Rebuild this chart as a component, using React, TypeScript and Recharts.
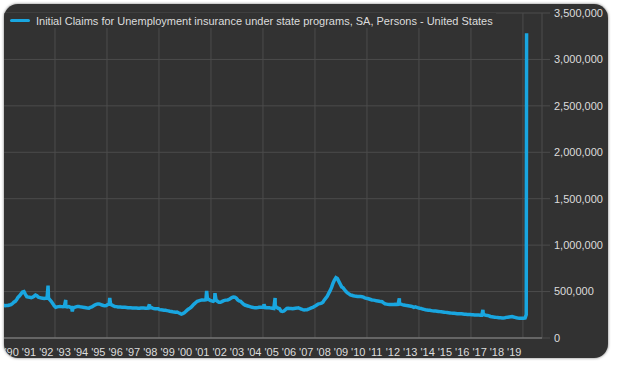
import { LineChart, Line, XAxis, YAxis, CartesianGrid } from 'recharts';

// monthly averages, thousands of persons
const y1990 = [352, 348, 350, 350, 355, 360, 370, 385, 395, 415, 440, 455];
const y1991 = [475, 495, 500, 470, 445, 440, 438, 435, 440, 450, 462, 455];
const y1992 = [440, 435, 430, 428, 425, 428, 430, 428, 410, 392, 370, 345];
const y1993 = [330, 335, 338, 340, 338, 336, 340, 338, 335, 338, 332, 330];
const y1994 = [325, 330, 335, 338, 338, 336, 335, 330, 328, 325, 322, 320];
const y1995 = [330, 335, 345, 355, 362, 365, 365, 362, 355, 350, 348, 350];
const y1996 = [360, 365, 362, 355, 345, 340, 338, 335, 335, 333, 330, 330];
const y1997 = [330, 328, 326, 325, 325, 324, 323, 322, 322, 320, 320, 322];
const y1998 = [322, 322, 320, 320, 322, 325, 330, 322, 318, 316, 315, 315];
const y1999 = [305, 303, 302, 300, 298, 295, 292, 288, 285, 282, 280, 278];
const y2000 = [280, 272, 265, 258, 262, 270, 285, 300, 312, 322, 335, 352];
const y2001 = [368, 382, 395, 400, 405, 408, 408, 410, 412, 425, 415, 405];
const y2002 = [400, 395, 405, 410, 395, 385, 385, 392, 400, 405, 408, 410];
const y2003 = [415, 425, 435, 442, 440, 430, 410, 400, 395, 380, 365, 355];
const y2004 = [350, 345, 340, 335, 330, 328, 327, 327, 328, 330, 332, 330];
const y2005 = [330, 328, 326, 325, 325, 322, 320, 318, 345, 330, 320, 315];
const y2006 = [290, 285, 290, 305, 318, 320, 318, 318, 315, 318, 320, 322];
const y2007 = [325, 318, 312, 305, 302, 303, 305, 310, 318, 325, 330, 340];
const y2008 = [348, 358, 368, 370, 375, 385, 410, 430, 450, 480, 510, 545];
const y2009 = [590, 625, 650, 640, 610, 580, 550, 540, 520, 500, 485, 475];
const y2010 = [465, 460, 455, 452, 450, 448, 446, 448, 445, 440, 432, 428];
const y2011 = [425, 420, 415, 410, 408, 405, 400, 398, 395, 392, 390, 378];
const y2012 = [368, 365, 362, 360, 362, 362, 360, 362, 360, 362, 370, 365];
const y2013 = [360, 356, 352, 350, 348, 345, 342, 338, 330, 335, 330, 325];
const y2014 = [320, 318, 312, 308, 304, 302, 300, 298, 295, 292, 290, 290];
const y2015 = [288, 286, 284, 282, 280, 278, 276, 274, 272, 270, 268, 266];
const y2016 = [266, 264, 262, 262, 262, 260, 258, 256, 255, 254, 252, 252];
const y2017 = [250, 250, 248, 248, 248, 247, 246, 245, 262, 248, 245, 243];
const y2018 = [238, 232, 228, 226, 224, 222, 220, 218, 217, 216, 216, 218];
const y2019 = [222, 224, 226, 228, 230, 226, 222, 218, 215, 214, 213, 212];
const y2020 = [212, 215];

const monthlyYears = [
    y1990, y1991, y1992, y1993, y1994, y1995, y1996, y1997, y1998, y1999,
    y2000, y2001, y2002, y2003, y2004, y2005, y2006, y2007, y2008, y2009,
    y2010, y2011, y2012, y2013, y2014, y2015, y2016, y2017, y2018, y2019, y2020,
];

// single-week spikes [date as year fraction, thousands]
const spikeDates = [1992.6, 1993.62, 1994.0, 1996.16, 1998.45, 2001.75, 2002.23, 2005.06, 2005.7, 2012.87, 2017.69];
const spikeValues = [565, 410, 285, 432, 364, 508, 483, 364, 430, 428, 302];

// last weeks of the series (March 2020)
const lastDates = [2020.19, 2020.21];
const lastValues = [252, 3283];

const yTicks = [0, 500000, 1000000, 1500000, 2000000, 2500000, 3000000, 3500000];
const labelYears = Array.from({ length: 30 }, (_, i) => 1990 + i);
const gridYears = Array.from({ length: 30 }, (_, i) => 1991 + i);

const chartData = [
    ...monthlyYears.flatMap((vals, yi) =>
        vals.map((v, m) => ({ t: 1990 + yi + (m + 0.5) / 12, claims: v * 1000 }))
    ),
    ...spikeDates.map((t, i) => ({ t, claims: spikeValues[i] * 1000 })),
    ...lastDates.map((t, i) => ({ t, claims: lastValues[i] * 1000 })),
].sort((a, b) => a.t - b.t);

const FONT = '"Liberation Sans", Arial, sans-serif';
const TEXT = '#dcdcdc';
const GRID = '#4c4c4c';
const BLUE = '#19a6e0';

export default function App() {
    return (
        <div style={{ position: 'absolute', left: 0, top: 0, width: 617, height: 365, background: '#fff', fontFamily: FONT }}>
            <div
                style={{
                    position: 'absolute', left: 4, top: 4, width: 604, height: 354,
                    background: '#323232', borderRadius: 14, overflow: 'hidden',
                    boxShadow: '0 0 3px rgba(0,0,0,0.55)',
                }}
            >
                <div style={{ position: 'absolute', left: -1, top: 0 }}>
                    <LineChart width={605} height={354} data={chartData} margin={{ top: 9, right: 0, left: 0, bottom: 0 }}>
                        <CartesianGrid xAxisId="grid" stroke={GRID} strokeWidth={1} />
                        <XAxis
                            xAxisId="grid"
                            type="number"
                            dataKey="t"
                            domain={[1990, 2021.1]}
                            ticks={gridYears}
                            allowDataOverflow
                            hide
                        />
                        <XAxis
                            type="number"
                            dataKey="t"
                            domain={[1990, 2021.1]}
                            ticks={labelYears.map((y) => y + 0.5)}
                            allowDataOverflow
                            interval={0}
                            height={20}
                            tickSize={0}
                            tickMargin={10}
                            axisLine={{ stroke: '#8c8c8c' }}
                            tick={{ fontSize: 11, fill: TEXT, fontFamily: FONT }}
                            tickFormatter={(t: number) => "'" + String(Math.floor(t)).slice(2)}
                        />
                        <YAxis
                            orientation="right"
                            width={66}
                            domain={[0, 3500000]}
                            ticks={yTicks}
                            interval={0}
                            axisLine={false}
                            tickSize={8}
                            tickMargin={4}
                            tickLine={{ stroke: GRID }}
                            tick={{ fontSize: 11, fill: TEXT, fontFamily: FONT }}
                            tickFormatter={(v: number) => v.toLocaleString('en-US')}
                        />
                        <Line
                            type="linear"
                            dataKey="claims"
                            stroke={BLUE}
                            strokeWidth={3.5}
                            dot={false}
                            isAnimationActive={false}
                        />
                    </LineChart>
                </div>
                <div
                    style={{
                        position: 'absolute', left: 0, top: 9, width: 492, height: 15,
                        background: '#323232', display: 'flex', alignItems: 'center',
                    }}
                >
                    <div style={{ marginLeft: 6, width: 20, height: 3, borderRadius: 1.5, background: BLUE }} />
                    <span style={{ marginLeft: 6, fontSize: 11, color: TEXT, whiteSpace: 'nowrap' }}>
                        Initial Claims for Unemployment insurance under state programs, SA, Persons - United States
                    </span>
                </div>
            </div>
        </div>
    );
}
